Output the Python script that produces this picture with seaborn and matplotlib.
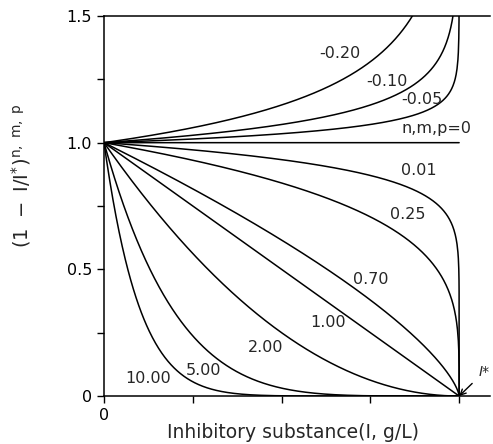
import numpy as np
import pandas as pd
import matplotlib
matplotlib.use("Agg")
import matplotlib.pyplot as plt
import seaborn as sns

# exponents n, m, p
exponents = [-0.20, -0.10, -0.05, 0.0, 0.10, 0.25, 0.70, 1.00, 2.00, 5.00, 10.00]
curve_labels = ["-0.20", "-0.10", "-0.05", "n,m,p=0", "0.01", "0.25", "0.70",
                "1.00", "2.00", "5.00", "10.00"]
# where each label sits (I/I*, value)
label_x = [0.665, 0.797, 0.895, 0.935, 0.887, 0.855, 0.75, 0.63, 0.455, 0.28, 0.124]
label_y = [1.35, 1.24, 1.17, 1.055, 0.89, 0.715, 0.46, 0.29, 0.19, 0.10, 0.07]

sns.set_style("ticks")
plt.rcParams["font.family"] = ["DejaVu Sans"]
plt.rcParams["mathtext.default"] = "regular"

fig = plt.figure(figsize=(4.93, 4.44), dpi=100)
ax = fig.add_axes([0.211, 0.108, 0.783, 0.856])

# 1 - I/I*, dense near I* so the steep ends are drawn
u = np.concatenate([[0.0], np.logspace(-250, -3, 600), np.linspace(1e-3, 1, 800)])
rows = []
for n in exponents:
    with np.errstate(divide="ignore"):
        y = np.power(u, n)
    y = np.minimum(y, 1.6)
    rows.append(pd.DataFrame({"x": 1 - u, "y": y, "n": n}))
df = pd.concat(rows)

for n, g in df.groupby("n"):
    sns.lineplot(data=g, x="x", y="y", sort=False, estimator=None,
                 color="black", lw=1.1, ax=ax)

for t, lx, ly in zip(curve_labels, label_x, label_y):
    ax.text(lx, ly, t, fontsize=11.5, ha="center", va="center")

ax.annotate("I*", xy=(1.0, 0.0), xytext=(1.07, 0.095), fontsize=10,
            ha="center", va="center", style="italic",
            arrowprops=dict(arrowstyle="->", color="black", lw=1.0,
                            shrinkA=3, shrinkB=0))

ax.set_xlim(0, 1.087)
ax.set_ylim(0, 1.5)
ax.set_xticks([0, 0.25, 0.5, 0.75, 1.0])
ax.set_xticklabels(["0", "", "", "", ""])
ax.set_yticks([0, 0.25, 0.5, 0.75, 1.0, 1.25, 1.5])
ax.set_yticklabels(["0", "", "0.5", "", "1.0", "", "1.5"])
ax.tick_params(direction="out", length=5, width=1, labelsize=11.5, colors="black")
ax.spines["right"].set_visible(False)
for s in ["left", "bottom", "top"]:
    ax.spines[s].set_linewidth(1.1)
    ax.spines[s].set_color("black")

ax.set_xlabel("Inhibitory substance(I, g/L)", fontsize=13.5)
ax.xaxis.set_label_coords(0.49, -0.072)
ax.set_ylabel(r"$(1\ -\ I/I^{*})^{n,\ m,\ p}$", fontsize=14)
ax.yaxis.set_label_coords(-0.185, 0.58)

fig.savefig("out.png", dpi=100)
